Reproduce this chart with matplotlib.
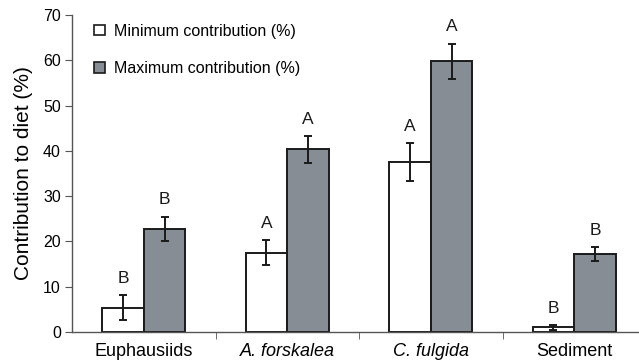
import numpy as np
import matplotlib
matplotlib.use('Agg')
import matplotlib.pyplot as plt
import matplotlib.ticker as ticker

plt.rcParams['font.family'] = ['Liberation Sans', 'DejaVu Sans']

# Data
categories = ['Euphausiids', 'A. forskalea', 'C. fulgida', 'Sediment']
italic = [False, True, True, False]
min_vals = [5.4, 17.5, 37.5, 1.0]
min_err = [2.7, 2.8, 4.2, 0.5]
max_vals = [22.8, 40.3, 59.8, 17.2]
max_err = [2.7, 3.0, 3.9, 1.5]
min_letters = ['B', 'A', 'A', 'B']
max_letters = ['B', 'A', 'A', 'B']

GRAY = '#878d94'
width = 0.29

fig = plt.figure(figsize=(6.39, 3.64), dpi=100)
ax = fig.add_axes([72 / 639, 32 / 364, 574 / 639, 317 / 364])

x = np.arange(len(categories))
ax.bar(x - width / 2, min_vals, width, color='white', edgecolor='#1a1a1a',
       linewidth=1.4, label='Minimum contribution (%)', zorder=2)
ax.bar(x + width / 2, max_vals, width, color=GRAY, edgecolor='#1a1a1a',
       linewidth=1.4, label='Maximum contribution (%)', zorder=2)
ax.errorbar(x - width / 2, min_vals, yerr=min_err, fmt='none', ecolor='#1a1a1a',
            elinewidth=1.4, capsize=3, capthick=1.4, zorder=3)
ax.errorbar(x + width / 2, max_vals, yerr=max_err, fmt='none', ecolor='#1a1a1a',
            elinewidth=1.4, capsize=3, capthick=1.4, zorder=3)

for i in range(len(categories)):
    ax.text(x[i] - width / 2, min_vals[i] + min_err[i] + 2.0, min_letters[i],
            ha='center', va='bottom', fontsize=12.5, color='#1a1a1a')
    ax.text(x[i] + width / 2, max_vals[i] + max_err[i] + 2.0, max_letters[i],
            ha='center', va='bottom', fontsize=12.5, color='#1a1a1a')

ax.set_xlim(-0.5, 3.5)
ax.set_ylim(0, 70)
ax.yaxis.set_major_locator(ticker.MultipleLocator(10))
ax.set_ylabel('Contribution to diet (%)', fontsize=15, labelpad=7)

ax.set_xticks(x)
ax.set_xticklabels(categories, fontsize=13)
for lbl, it in zip(ax.get_xticklabels(), italic):
    if it:
        lbl.set_style('italic')
ax.set_xticks([0.5, 1.5, 2.5], minor=True)
ax.tick_params(axis='x', which='major', length=0, pad=8)
ax.tick_params(axis='x', which='minor', length=5, direction='out', color='#555555')
ax.tick_params(axis='y', length=5, labelsize=11.5, color='#555555', pad=3)

for s in ['top', 'right']:
    ax.spines[s].set_visible(False)
for s in ['left', 'bottom']:
    ax.spines[s].set_color('#555555')
    ax.spines[s].set_linewidth(1.0)

leg = ax.legend(loc='upper left', bbox_to_anchor=(0.014, 1.018), frameon=False,
                fontsize=11.5, handlelength=0.65, handleheight=0.65,
                handletextpad=0.55, labelspacing=1.4)
for h in leg.legend_handles:
    h.set_linewidth(1.2)

fig.savefig('out.png', dpi=100)
